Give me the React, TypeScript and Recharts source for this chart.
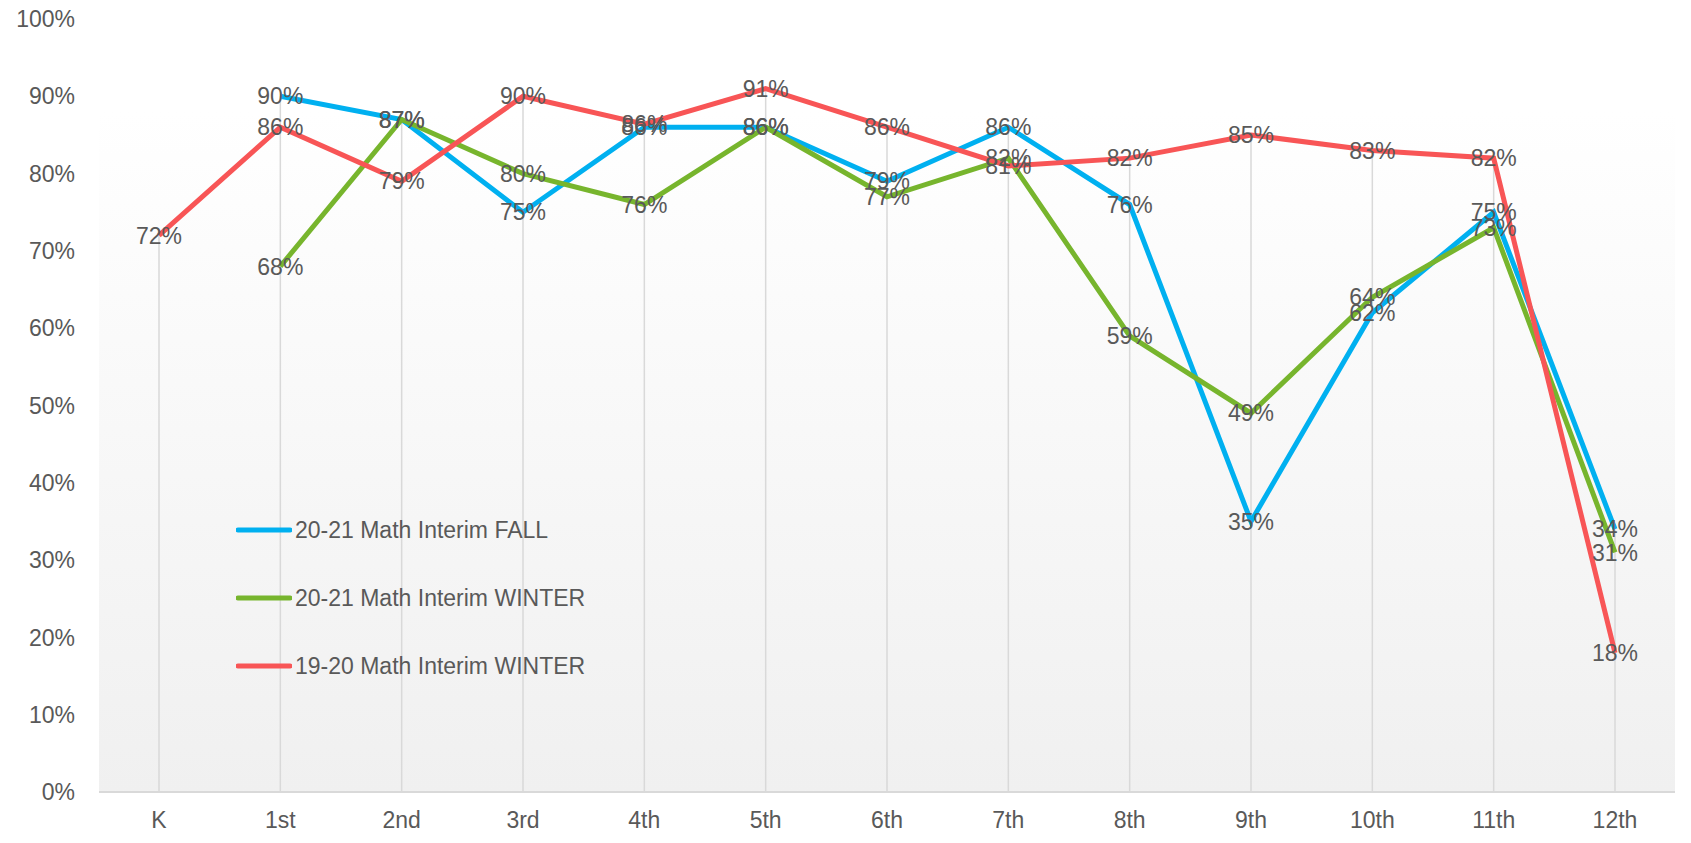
import React from "react";
import { LineChart, Line, XAxis, YAxis, CartesianGrid, Legend, LabelList, ReferenceLine } from "recharts";

const grades = ["K", "1st", "2nd", "3rd", "4th", "5th", "6th", "7th", "8th", "9th", "10th", "11th", "12th"];
const fall2021 = [null, 90, 87, 75, 86, 86, 79, 86, 76, 35, 62, 75, 34];
const winter2021 = [null, 68, 87, 80, 76, 86, 77, 82, 59, 49, 64, 73, 31];
const winter1920 = [72, 86, 79, 90, 86.4, 91, 86, 81, 82, 85, 83, 82, 18];
const yTicks = [0, 10, 20, 30, 40, 50, 60, 70, 80, 90, 100];

const seriesList = [
  { key: "fall2021", name: "20-21 Math Interim FALL", color: "#00B0F0" },
  { key: "winter2021", name: "20-21 Math Interim WINTER", color: "#77B52D" },
  { key: "winter1920", name: "19-20 Math Interim WINTER", color: "#F85556" },
];

const data = grades.map((g, i) => ({
  grade: g,
  fall2021: fall2021[i],
  winter2021: winter2021[i],
  winter1920: winter1920[i],
}));

// excel drop lines: from the highest point of each grade down to the axis
const dropTops = grades.map((g, i) =>
  Math.max(...[fall2021[i], winter2021[i], winter1920[i]].filter((v) => v != null) as number[])
);

const FONT = "'Liberation Sans', Arial, sans-serif";
const TEXT = "#595959";

const pct = (v: any) => (v == null ? "" : `${Math.round(v)}%`);

function LegendBox() {
  return (
    <div style={{ fontFamily: FONT }}>
      {seriesList.map((s) => (
        <div key={s.key} style={{ display: "flex", alignItems: "center", height: 68 }}>
          <svg width={56} height={10}>
            <line x1={2} y1={5} x2={54} y2={5} stroke={s.color} strokeWidth={5} strokeLinecap="round" />
          </svg>
          <span style={{ fontSize: 23, color: TEXT, marginLeft: 3 }}>{s.name}</span>
        </div>
      ))}
    </div>
  );
}

export default function App() {
  return (
    <div style={{ position: "absolute", left: 0, top: 0, background: "#fff" }}>
      <LineChart width={1691} height={843} data={data} margin={{ top: 19, right: 16, left: 0, bottom: 21 }}>
        <defs>
          <linearGradient id="plotBg" x1="0" y1="0" x2="0" y2="1">
            <stop offset="0%" stopColor="#ffffff" />
            <stop offset="12%" stopColor="#ffffff" />
            <stop offset="100%" stopColor="#f0f0f0" />
          </linearGradient>
        </defs>
        <CartesianGrid horizontal={false} vertical={false} fill="url(#plotBg)" fillOpacity={1} />
        <XAxis
          dataKey="grade"
          height={30}
          padding={{ left: 60, right: 60 }}
          tickLine={false}
          tickSize={0}
          tickMargin={20}
          axisLine={{ stroke: "#d9d9d9", strokeWidth: 2 }}
          tick={{ fill: TEXT, fontSize: 23, fontFamily: FONT }}
        />
        <YAxis
          domain={[0, 100]}
          ticks={yTicks}
          width={99}
          tickFormatter={(v) => `${v}%`}
          axisLine={false}
          tickLine={false}
          tickSize={0}
          tickMargin={24}
          tick={{ fill: TEXT, fontSize: 23, fontFamily: FONT }}
        />
        {grades.map((g, i) => (
          <ReferenceLine
            key={g}
            segment={[{ x: g, y: 0 }, { x: g, y: dropTops[i] }]}
            stroke="#d9d9d9"
            strokeWidth={1.5}
          />
        ))}
        <Legend
          layout="vertical"
          verticalAlign="middle"
          align="center"
          wrapperStyle={{ left: 236, top: 496, width: "auto" }}
          content={() => <LegendBox />}
        />
        {seriesList.map((s) => (
          <Line
            key={s.key}
            dataKey={s.key}
            name={s.name}
            type="linear"
            stroke={s.color}
            strokeWidth={5}
            dot={false}
            activeDot={false}
            isAnimationActive={false}
          >
            <LabelList
              dataKey={s.key}
              position="center"
              formatter={pct}
              fill={TEXT}
              fontSize={23}
              fontFamily={FONT}
            />
          </Line>
        ))}
      </LineChart>
    </div>
  );
}
